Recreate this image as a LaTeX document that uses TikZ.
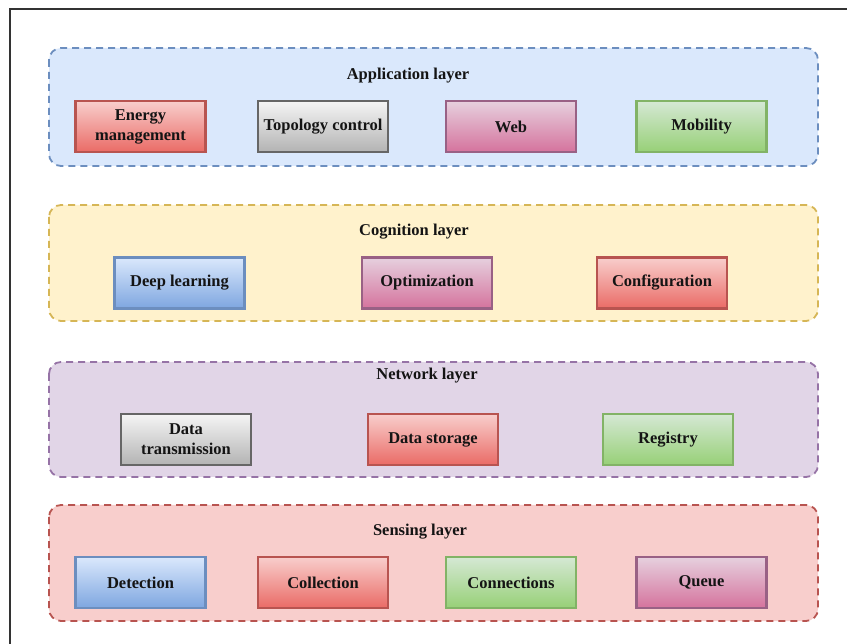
\documentclass[tikz,border=0pt]{standalone}
\usepackage{fontspec}
\setmainfont{Liberation Serif}
\definecolor{appfill}{HTML}{DAE8FC}\definecolor{appline}{HTML}{6C8EBF}
\definecolor{cogfill}{HTML}{FFF2CC}\definecolor{cogline}{HTML}{D6B656}
\definecolor{netfill}{HTML}{E1D5E7}\definecolor{netline}{HTML}{9673A6}
\definecolor{senfill}{HTML}{F8CECC}\definecolor{senline}{HTML}{B85450}
\definecolor{redtop}{HTML}{F8CECC}\definecolor{redbot}{HTML}{EA6B66}\definecolor{redline}{HTML}{B85450}
\definecolor{graytop}{HTML}{F5F5F5}\definecolor{graybot}{HTML}{B3B3B3}\definecolor{grayline}{HTML}{666666}
\definecolor{pinktop}{HTML}{E6D0DE}\definecolor{pinkbot}{HTML}{D5739D}\definecolor{pinkline}{HTML}{996185}
\definecolor{greentop}{HTML}{D5E8D4}\definecolor{greenbot}{HTML}{97D077}\definecolor{greenline}{HTML}{82B366}
\definecolor{bluetop}{HTML}{DAE8FC}\definecolor{bluebot}{HTML}{7EA6E0}\definecolor{blueline}{HTML}{6C8EBF}
\tikzset{
  layerbox/.style={rounded corners=12pt, line width=1.8pt, dash pattern=on 7pt off 5pt},
  item/.style={draw, line width=2.2pt, minimum width=130pt, minimum height=51pt, align=center,
    font=\fontsize{16.5}{20}\selectfont\bfseries, text=black!92},
  redbox/.style={item, top color=redtop, bottom color=redbot, draw=redline},
  graybox/.style={item, top color=graytop, bottom color=graybot, draw=grayline},
  pinkbox/.style={item, top color=pinktop, bottom color=pinkbot, draw=pinkline},
  greenbox/.style={item, top color=greentop, bottom color=greenbot, draw=greenline},
  bluebox/.style={item, top color=bluetop, bottom color=bluebot, draw=blueline},
  title/.style={font=\fontsize{16.5}{20}\selectfont\bfseries, text=black!92},
}
\begin{document}
\begin{tikzpicture}[x=1pt, y=-1pt]
\useasboundingbox (0,0) rectangle (847,644);
\fill[white] (0,0) rectangle (847,644);
\draw[line width=2.2pt, black!80] (10,650) -- (10,9) -- (850,9);
% layers
\draw[layerbox, fill=appfill, draw=appline] (49,48) rectangle (818,166);
\draw[layerbox, fill=cogfill, draw=cogline] (49,205) rectangle (818,321);
\draw[layerbox, fill=netfill, draw=netline] (49,362) rectangle (818,477);
\draw[layerbox, fill=senfill, draw=senline] (49,505) rectangle (818,621);
% titles
\node[title] (tapp) at (408,76) {Application layer};
\node[title] (tcog) at (414,232) {Cognition layer};
\node[title] (tnet) at (427,376) {Network layer};
\node[title] (tsen) at (420,532) {Sensing layer};
% application
\node[redbox] (energy) at (140.5,126.5) {Energy\\management};
\node[graybox] (topo) at (323,126.5) {Topology control};
\node[pinkbox] (web) at (511,126.5) {Web};
\node[greenbox] (mob) at (701.5,126.5) {Mobility};
% cognition
\node[bluebox] (deep) at (179.5,283) {Deep learning};
\node[pinkbox] (opt) at (427,283) {Optimization};
\node[redbox] (conf) at (662,283) {Configuration};
% network
\node[graybox] (dtrans) at (186,439.5) {Data\\transmission};
\node[redbox] (dstore) at (433,439.5) {Data storage};
\node[greenbox] (reg) at (668,439.5) {Registry};
% sensing
\node[bluebox] (det) at (140.5,582.5) {Detection};
\node[redbox] (coll) at (323,582.5) {Collection};
\node[greenbox] (conn) at (511,582.5) {Connections};
\node[pinkbox] (queue) at (701.5,582.5) {Queue};
\end{tikzpicture}
\end{document}
